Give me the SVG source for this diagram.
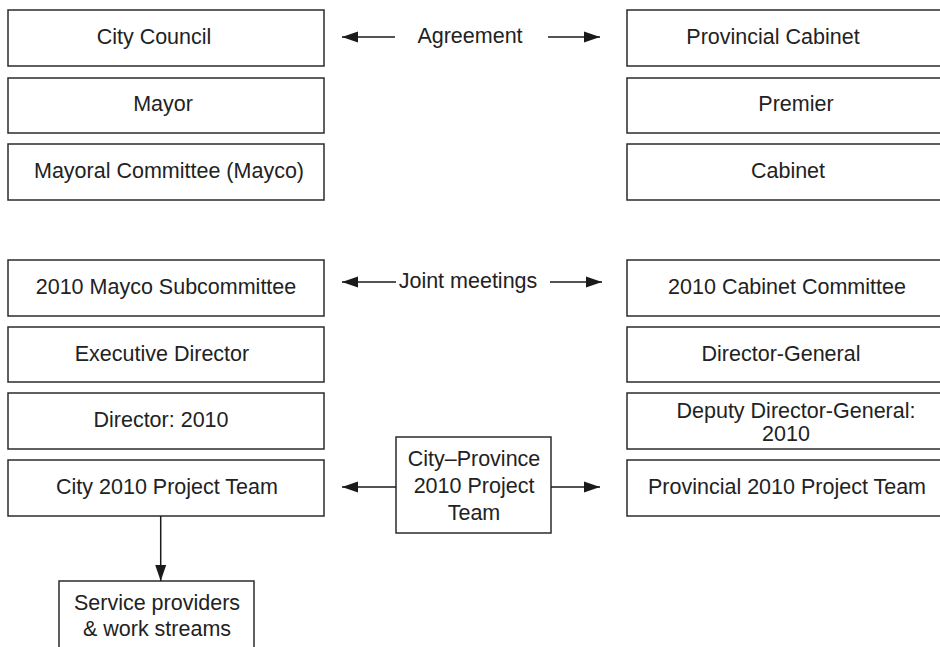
<svg xmlns="http://www.w3.org/2000/svg" width="940" height="647" viewBox="0 0 940 647">
  <style>
    .box { fill: #ffffff; stroke: #2b2b2b; stroke-width: 1.5; }
    .lbl { font-family: "Liberation Sans", Arial, sans-serif; font-size: 21.5px; fill: #222222; text-anchor: middle; }
    .conn { stroke: #1a1a1a; stroke-width: 1.5; fill: none; }
  </style>
  <defs>
    <marker id="arrow" markerUnits="userSpaceOnUse" markerWidth="18" markerHeight="12" refX="16" refY="6" orient="auto">
      <path d="M0,0.5 L16,6 L0,11.5 Z" fill="#1a1a1a"/>
    </marker>
  </defs>
  <rect width="940" height="647" fill="#ffffff"/>

  <!-- City side, political level -->
  <g id="city-council"><rect class="box" x="8" y="10" width="316" height="56"/><text class="lbl" x="154" y="44">City Council</text></g>
  <g id="mayor"><rect class="box" x="8" y="78" width="316" height="55"/><text class="lbl" x="163" y="111">Mayor</text></g>
  <g id="mayco"><rect class="box" x="8" y="144" width="316" height="56"/><text class="lbl" x="169" y="178">Mayoral Committee (Mayco)</text></g>

  <!-- Province side, political level -->
  <g id="provincial-cabinet"><rect class="box" x="627" y="10" width="320" height="56"/><text class="lbl" x="773" y="44">Provincial Cabinet</text></g>
  <g id="premier"><rect class="box" x="627" y="78" width="320" height="55"/><text class="lbl" x="796" y="111">Premier</text></g>
  <g id="cabinet"><rect class="box" x="627" y="144" width="320" height="56"/><text class="lbl" x="788" y="178">Cabinet</text></g>

  <!-- City side, 2010 structures -->
  <g id="mayco-subcommittee"><rect class="box" x="8" y="260" width="316" height="56"/><text class="lbl" x="166" y="294">2010 Mayco Subcommittee</text></g>
  <g id="executive-director"><rect class="box" x="8" y="327" width="316" height="55"/><text class="lbl" x="162" y="361">Executive Director</text></g>
  <g id="director-2010"><rect class="box" x="8" y="393" width="316" height="56"/><text class="lbl" x="161" y="427">Director: 2010</text></g>
  <g id="city-project-team"><rect class="box" x="8" y="460" width="316" height="56"/><text class="lbl" x="167" y="494">City 2010 Project Team</text></g>
  <g id="service-providers"><rect class="box" x="59" y="581" width="195" height="80"/><text class="lbl" x="157" y="610">Service providers</text><text class="lbl" x="157" y="636">&amp; work streams</text></g>

  <!-- Province side, 2010 structures -->
  <g id="cabinet-committee"><rect class="box" x="627" y="260" width="320" height="56"/><text class="lbl" x="787" y="294">2010 Cabinet Committee</text></g>
  <g id="director-general"><rect class="box" x="627" y="327" width="320" height="55"/><text class="lbl" x="781" y="361">Director-General</text></g>
  <g id="deputy-dg"><rect class="box" x="627" y="393" width="320" height="56"/><text class="lbl" x="796" y="418">Deputy Director-General:</text><text class="lbl" x="786" y="441">2010</text></g>
  <g id="provincial-project-team"><rect class="box" x="627" y="460" width="320" height="56"/><text class="lbl" x="787" y="494">Provincial 2010 Project Team</text></g>

  <!-- Joint team -->
  <g id="joint-team"><rect class="box" x="396" y="437" width="155" height="96"/><text class="lbl" x="474" y="466">City–Province</text><text class="lbl" x="474" y="493">2010 Project</text><text class="lbl" x="474" y="520">Team</text></g>

  <!-- Connectors -->
  <g id="connectors">
    <line class="conn" x1="395" y1="37" x2="342" y2="37" marker-end="url(#arrow)"/>
    <text class="lbl" x="470" y="43">Agreement</text>
    <line class="conn" x1="548" y1="37" x2="600" y2="37" marker-end="url(#arrow)"/>

    <line class="conn" x1="396" y1="282" x2="342" y2="282" marker-end="url(#arrow)"/>
    <text class="lbl" x="468" y="288">Joint meetings</text>
    <line class="conn" x1="550" y1="282" x2="602" y2="282" marker-end="url(#arrow)"/>

    <line class="conn" x1="396" y1="487" x2="342" y2="487" marker-end="url(#arrow)"/>
    <line class="conn" x1="551" y1="487" x2="600" y2="487" marker-end="url(#arrow)"/>

    <line class="conn" x1="160.7" y1="516" x2="160.7" y2="581" marker-end="url(#arrow)"/>
  </g>
</svg>
